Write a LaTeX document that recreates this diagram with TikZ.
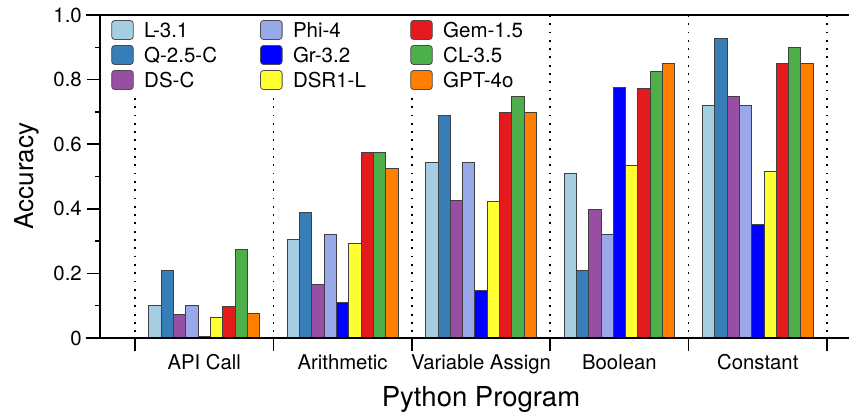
\documentclass[tikz,border=0pt]{standalone}
\usepackage{fontspec}
\setmainfont{TeX Gyre Heros}
\begin{document}
\begin{tikzpicture}[x=1pt,y=1pt,
  barline/.style={draw=black!75, line width=0.8pt},
  axisline/.style={line width=1.8pt, line cap=rect},
  sepline/.style={line width=1.6pt, dash pattern=on 1.8pt off 6.5pt},
  swatch/.style={draw=black!70, line width=0.8pt, rounded corners=3pt},
  legtext/.style={anchor=base west, inner sep=0pt, font=\fontsize{20.5}{24}\selectfont},
  ticklab/.style={anchor=east, inner sep=0pt, font=\fontsize{20.4}{24}\selectfont},
  catlab/.style={anchor=base, inner sep=0pt, font=\fontsize{20.3}{24}\selectfont}]
\definecolor{cb0}{HTML}{A6CEE3}
\definecolor{cb1}{HTML}{377EB8}
\definecolor{cb2}{HTML}{984EA3}
\definecolor{cb3}{HTML}{98A8E8}
\definecolor{cb4}{HTML}{0000FF}
\definecolor{cb5}{HTML}{FFFF33}
\definecolor{cb6}{HTML}{E41A1C}
\definecolor{cb7}{HTML}{4DAF4A}
\definecolor{cb8}{HTML}{FF7F00}
\useasboundingbox (0,0) rectangle (849,412);
% separators
\foreach \k in {0,1,2} \draw[sepline] ({135+138.4*\k},314) -- ({135+138.4*\k},74);
\foreach \k in {3,4,5} \draw[sepline] ({135+138.4*\k},397) -- ({135+138.4*\k},74);
% bars
\foreach [count=\gi from 0] \vals in {
  {0.101,0.21,0.073,0.101,0.005,0.064,0.099,0.275,0.075},
  {0.305,0.389,0.166,0.32,0.11,0.292,0.575,0.575,0.524},
  {0.544,0.69,0.425,0.544,0.148,0.424,0.699,0.748,0.699},
  {0.51,0.21,0.398,0.322,0.777,0.533,0.774,0.825,0.85},
  {0.72,0.926,0.749,0.72,0.353,0.515,0.85,0.90,0.85}} {
  \foreach [count=\bi from 0] \v in \vals {
    \draw[barline, fill=cb\bi] ({135+138.4*\gi+13.85+12.3*\bi},74) rectangle ++(12.3,{323*\v});
  }
}
% axes
\draw[axisline] (100,74) -- (100,397);
\draw[axisline] (87,74) -- (849,74);
\draw[axisline] (87,397) -- (849,397);
\foreach \v in {0,0.2,0.4,0.6,0.8} {
  \draw[line width=1.5pt] (87,{74+323*\v}) -- (100,{74+323*\v});
}
\foreach \v/\t in {0/0,0.2/0.2,0.4/0.4,0.6/0.6,0.8/0.8,1.0/1.0} {
  \node[ticklab] (t\t) at (82,{74+323*\v}) {\t};
}
\foreach \v in {0.1,0.3,0.5,0.7,0.9} \draw[line width=1.5pt] (95,{74+323*\v}) -- (100,{74+323*\v});
\foreach \k in {0,...,5} \draw[line width=1.5pt] ({135+138.4*\k},74) -- ({135+138.4*\k},61);
% category labels
\foreach [count=\i from 0] \t in {API Call,Arithmetic,Variable Assign,Boolean,Constant}
  \node[catlab] (c\i) at ({204.2+138.4*\i},42) {\t};
\node[anchor=base, inner sep=0pt, font=\fontsize{27.5}{32}\selectfont] (xl) at (481,5.3) {Python Program};
\node[anchor=base, rotate=90, inner sep=0pt, font=\fontsize{26}{30}\selectfont] (yl) at (33,236) {Accuracy};
% legend
\foreach [count=\i from 0] \t/\col/\xs/\row in {L-3.1/0/111.7/0, Q-2.5-C/1/111.7/1, DS-C/2/111.7/2,
   Phi-4/3/260.5/0, Gr-3.2/4/260.5/1, DSR1-L/5/260.5/2,
   Gem-1.5/6/410.7/0, CL-3.5/7/410.7/1, GPT-4o/8/410.7/2} {
  \draw[swatch, fill=cb\col] (\xs,{382-25*\row-9.5}) rectangle ++(21.6,19);
  \node[legtext] (l\i) at ({\xs+32.3},{382-25*\row-7.4}) {\t};
}
\end{tikzpicture}
\end{document}
